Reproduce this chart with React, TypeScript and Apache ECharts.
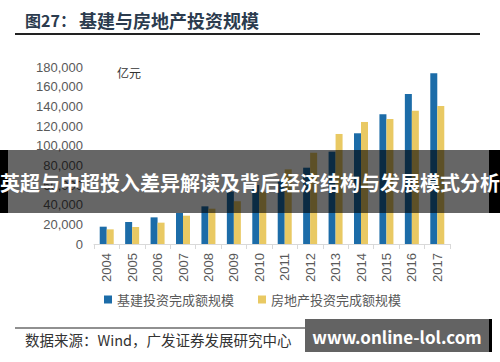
import React, { useEffect, useRef } from "react";
import * as echarts from "echarts";

const years = ["2004","2005","2006","2007","2008","2009","2010","2011","2012","2013","2014","2015","2016","2017"];
const infraInvest = [17600, 22400, 27100, 31500, 38300, 53200, 60000, 65500, 77600, 93900, 112600, 131900, 152500, 173600];
const realEstateInvest = [14900, 17300, 21700, 28800, 35900, 43500, 53000, 75900, 92800, 111900, 124100, 127100, 135500, 140300];
const seriesNames = ["基建投资完成额规模", "房地产投资完成额规模"];

const CJK = "'Noto Sans CJK SC', 'Noto Sans', sans-serif";
const LAT = "'Liberation Sans', Arial, sans-serif";

export default function App() {
  const ref = useRef<HTMLDivElement>(null);
  useEffect(() => {
    document.body.style.margin = "0";
    const chart = echarts.init(ref.current!, null, { renderer: "svg" });
    chart.setOption({
      animation: false,
      backgroundColor: "#ffffff",
      grid: { left: 94, width: 356, top: 67, height: 177 },
      legend: {
        left: 99,
        top: 288,
        itemWidth: 8,
        itemHeight: 8,
        itemGap: 24,
        icon: "rect",
        textStyle: { fontFamily: CJK, fontSize: 13, color: "#595959" },
        data: seriesNames,
      },
      xAxis: {
        type: "category",
        data: years,
        axisLine: { lineStyle: { color: "#d9d9d9" } },
        axisTick: { show: true, length: 5, lineStyle: { color: "#d9d9d9" } },
        axisLabel: { rotate: 90, fontFamily: LAT, fontSize: 13, color: "#595959", margin: 9 },
      },
      yAxis: {
        type: "value",
        min: 0,
        max: 180000,
        interval: 20000,
        axisLine: { show: false },
        axisTick: { show: false },
        splitLine: { show: false },
        axisLabel: {
          fontFamily: LAT,
          fontSize: 13,
          color: "#595959",
          margin: 11,
          formatter: (v: number) => v.toLocaleString("en-US"),
        },
      },
      series: [
        { name: seriesNames[0], type: "bar", data: infraInvest, barWidth: 7, barGap: "0%", itemStyle: { color: "#1c6ca8" } },
        { name: seriesNames[1], type: "bar", data: realEstateInvest, barWidth: 7, barGap: "0%", itemStyle: { color: "#e9c963" } },
      ],
      graphic: [
        { type: "text", left: 25, top: 12, style: { text: "图27：", fontFamily: CJK, fontSize: 16, fontWeight: "bold", fill: "#2b3b4e" } },
        { type: "text", left: 79, top: 11, style: { text: "基建与房地产投资规模", fontFamily: CJK, fontSize: 18, fontWeight: "bold", fill: "#2b3b4e" } },
        { type: "line", shape: { x1: 15, y1: 34, x2: 480, y2: 34 }, style: { stroke: "#222", lineWidth: 2 } },
        { type: "text", left: 117, top: 66, style: { text: "亿元", fontFamily: CJK, fontSize: 12, fill: "#333" } },
        { type: "line", shape: { x1: 15, y1: 328, x2: 480, y2: 328 }, style: { stroke: "#222", lineWidth: 1.2 } },
        { type: "text", left: 25, top: 332, style: { text: "数据来源：Wind，广发证券发展研究中心", fontFamily: CJK, fontSize: 14.5, fill: "#333" } },
        { type: "rect", z: 100, shape: { x: 0, y: 150, width: 500, height: 63 }, style: { fill: "rgba(0,0,0,0.6)" } },
        { type: "rect", z: 100, shape: { x: 0, y: 150, width: 8, height: 63 }, style: { fill: "#000" } },
        { type: "rect", z: 100, shape: { x: 489, y: 150, width: 11, height: 63 }, style: { fill: "#000" } },
        { type: "text", z: 101, x: 250, y: 182, style: { text: "英超与中超投入差异解读及背后经济结构与发展模式分析", fontFamily: CJK, fontSize: 20, fontWeight: "bold", fill: "#fff", align: "center", verticalAlign: "middle" } },
        { type: "rect", z: 100, shape: { x: 305, y: 319, width: 184, height: 33 }, style: { fill: "#636363" } },
        { type: "rect", z: 100, shape: { x: 489, y: 319, width: 3, height: 33 }, style: { fill: "#000" } },
        { type: "text", z: 101, x: 397, y: 336, style: { text: "www.online-lol.com", fontFamily: CJK, fontSize: 17, fontWeight: "bold", fill: "#fff", align: "center", verticalAlign: "middle" } },
      ],
    });
    return () => chart.dispose();
  }, []);
  return <div ref={ref} style={{ width: 500, height: 362 }} />;
}
